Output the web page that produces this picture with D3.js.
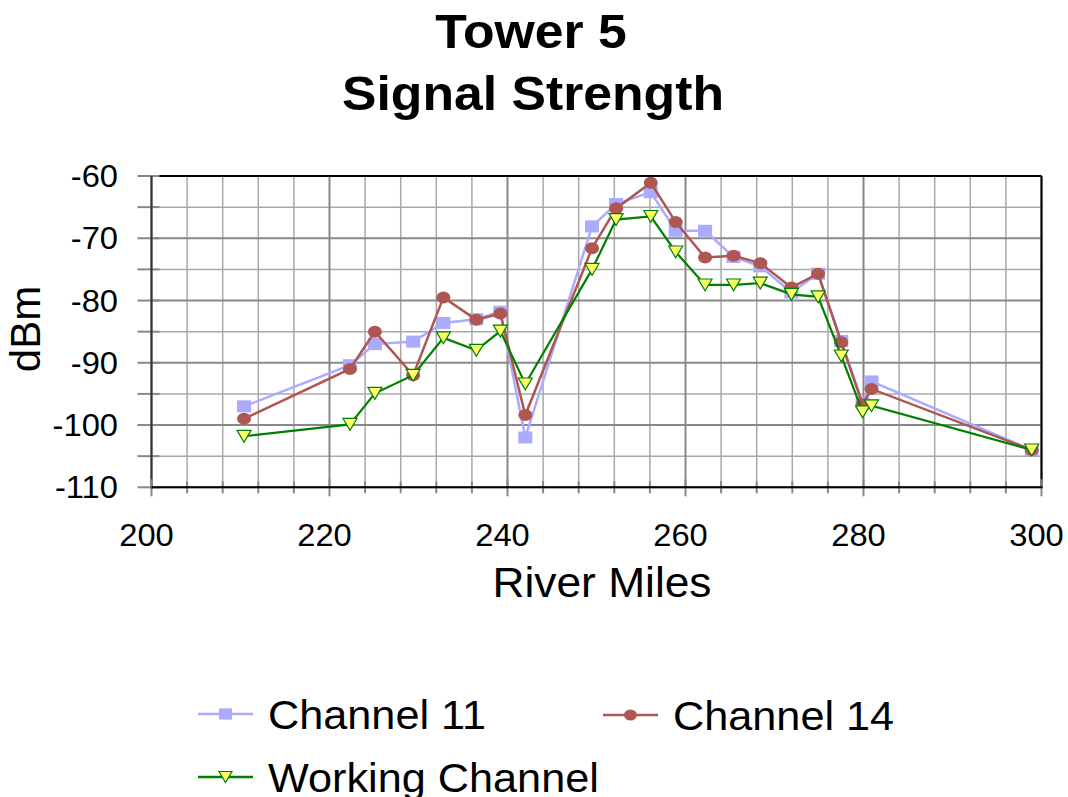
<!DOCTYPE html>
<html>
<head>
<meta charset="utf-8">
<script src="https://cdn.jsdelivr.net/npm/d3@7"></script>
<style>
  body { margin: 0; background: #fff; }
  text { font-family: "Liberation Sans", Arial, sans-serif; fill: #000; }
</style>
</head>
<body>
<div id="chart"></div>
<script>
// chart data
var miles = [210.4, 222.3, 225.1, 229.4, 232.8, 236.5, 239.2, 242.0, 249.5, 252.2, 256.1, 258.9, 262.2, 265.4, 268.4, 271.9, 274.9, 277.5, 279.9, 280.9, 298.9];
var channel11 = [-97.0, -90.4, -87.0, -86.6, -83.6, -83.0, -81.8, -102.0, -68.1, -64.5, -62.6, -68.8, -68.8, -73.0, -74.5, -78.7, -75.7, -86.5, -96.5, -93.0, -104.0];
var channel14 = [-99.0, -91.0, -85.0, -92.0, -79.5, -83.1, -82.1, -98.4, -71.6, -65.2, -61.1, -67.4, -73.1, -72.8, -74.0, -77.9, -75.7, -86.7, -96.7, -94.2, -104.0];
var working = [-101.8, -99.9, -94.9, -92.0, -86.0, -88.0, -84.9, -93.4, -75.0, -67.0, -66.5, -72.2, -77.5, -77.5, -77.2, -79.0, -79.4, -88.9, -97.9, -96.9, -104.0];

var seriesNames = ["Channel 11", "Channel 14", "Working Channel"];
var xTicks = [200, 220, 240, 260, 280, 300];
var yTicks = [-60, -70, -80, -90, -100, -110];
var xMinor = d3.range(200, 301, 4);
var yMinor = d3.range(-110, -59, 5);

var width = 1068, height = 797;
// plot area (window.top is reserved, so use other names)
var plotLeft = 151.5, plotRight = 1041.5, plotTop = 176, plotBottom = 487.3;
// the reference text is a little wider than Liberation Sans
var stretch = 1.055;

var svg = d3.select("#chart").append("svg")
  .attr("width", width)
  .attr("height", height);

var x = d3.scaleLinear().domain([200, 300]).range([plotLeft, plotRight]);
var y = d3.scaleLinear().domain([-110, -60]).range([plotBottom, plotTop]);

// text helper, places text at (tx, ty) with a horizontal stretch
function addText(parent, tx, ty, str, size, anchor, bold) {
  return parent.append("text")
    .attr("transform", "translate(" + tx + "," + ty + ") scale(" + stretch + ",1)")
    .attr("text-anchor", anchor)
    .style("font-size", size + "px")
    .style("font-weight", bold ? "bold" : "normal")
    .text(str);
}

// title
addText(svg, 531, 48, "Tower 5", 49, "middle", true);
addText(svg, 533, 110, "Signal Strength", 49, "middle", true);

// grid lines, minor first then major on top
var grid = svg.append("g");
grid.selectAll(".vminor").data(xMinor.filter(function (d) { return xTicks.indexOf(d) < 0; }))
  .enter().append("line")
  .attr("x1", d => x(d)).attr("x2", d => x(d)).attr("y1", plotTop).attr("y2", plotBottom)
  .style("stroke", "#a8a8a8").style("stroke-width", 1.5);
grid.selectAll(".hminor").data(yMinor.filter(function (d) { return yTicks.indexOf(d) < 0; }))
  .enter().append("line")
  .attr("y1", d => y(d)).attr("y2", d => y(d)).attr("x1", plotLeft).attr("x2", plotRight)
  .style("stroke", "#a8a8a8").style("stroke-width", 1.5);
grid.selectAll(".vmajor").data(xTicks)
  .enter().append("line")
  .attr("x1", d => x(d)).attr("x2", d => x(d)).attr("y1", plotTop).attr("y2", plotBottom)
  .style("stroke", "#888").style("stroke-width", 2);
grid.selectAll(".hmajor").data(yTicks)
  .enter().append("line")
  .attr("y1", d => y(d)).attr("y2", d => y(d)).attr("x1", plotLeft).attr("x2", plotRight)
  .style("stroke", "#888").style("stroke-width", 2);

// plot border
svg.append("line").attr("x1", plotLeft).attr("x2", plotRight).attr("y1", plotTop).attr("y2", plotTop)
  .style("stroke", "#000").style("stroke-width", 2);
svg.append("line").attr("x1", plotRight).attr("x2", plotRight).attr("y1", plotTop).attr("y2", plotBottom)
  .style("stroke", "#000").style("stroke-width", 2);

// y axis with crossing ticks
var yAxis = svg.append("g");
yAxis.selectAll("line.tick").data(yMinor).enter().append("line")
  .attr("x1", plotLeft - 14).attr("x2", plotLeft + 8)
  .attr("y1", d => y(d)).attr("y2", d => y(d))
  .style("stroke", "#888").style("stroke-width", 2);
yAxis.append("line").attr("x1", plotLeft).attr("x2", plotLeft).attr("y1", plotTop).attr("y2", plotBottom + 2)
  .style("stroke", "#333").style("stroke-width", 2);
yTicks.forEach(function (d) {
  addText(yAxis, 118, y(d) + 11, d, 31, "end", false);
});

// x axis with crossing ticks
var xAxis = svg.append("g");
xAxis.selectAll("line.tick").data(xMinor).enter().append("line")
  .attr("x1", d => x(d)).attr("x2", d => x(d))
  .attr("y1", d => xTicks.indexOf(d) >= 0 ? plotBottom - 8 : plotBottom - 6)
  .attr("y2", d => xTicks.indexOf(d) >= 0 ? plotBottom + 9 : plotBottom + 6)
  .style("stroke", "#888").style("stroke-width", 2);
xAxis.append("line").attr("x1", plotLeft).attr("x2", plotRight + 1).attr("y1", plotBottom).attr("y2", plotBottom)
  .style("stroke", "#000").style("stroke-width", 2);
xTicks.forEach(function (d) {
  addText(xAxis, x(d) - 5, 546, d, 31, "middle", false);
});

// axis titles
addText(svg, 602, 597, "River Miles", 42, "middle", false);
svg.append("text").attr("transform", "translate(40,329) rotate(-90)")
  .attr("text-anchor", "middle").style("font-size", "42px")
  .text("dBm");

// series
var colors = ["#aaaaff", "#ad5652", "#008000"];
var seriesValues = [channel11, channel14, working];

function drawMarker(g, type, cx, cy, s) {
  if (type == 0) {
    g.append("rect").attr("x", cx - s / 2).attr("y", cy - s * 0.43).attr("width", s).attr("height", s * 0.86)
      .style("fill", colors[0]);
  } else if (type == 1) {
    g.append("ellipse").attr("cx", cx).attr("cy", cy).attr("rx", s / 2).attr("ry", s * 0.43)
      .style("fill", colors[1]);
  } else {
    var h = s * 0.85;
    g.append("path")
      .attr("d", "M" + (cx - s / 2) + "," + (cy - h / 2) + "L" + (cx + s / 2) + "," + (cy - h / 2) + "L" + cx + "," + (cy + h / 2) + "Z")
      .style("fill", "#ffff66").style("stroke", colors[2]).style("stroke-width", 1.2);
  }
}

var line = d3.line().x(d => x(d[0])).y(d => y(d[1]));

seriesValues.forEach(function (vals, k) {
  var pts = miles.map(function (m, i) { return [m, vals[i]]; });
  var g = svg.append("g");
  g.append("path").datum(pts)
    .attr("d", line)
    .style("fill", "none")
    .style("stroke", colors[k])
    .style("stroke-width", k == 2 ? 2.2 : 2.5);
  pts.forEach(function (p) { drawMarker(g, k, x(p[0]), y(p[1]), 14); });
});

// legend
var legendPos = [[198, 714], [603, 715], [198, 777]];
seriesNames.forEach(function (name, k) {
  var lx = legendPos[k][0], ly = legendPos[k][1];
  var g = svg.append("g");
  g.append("line").attr("x1", lx).attr("x2", lx + 55).attr("y1", ly).attr("y2", ly)
    .style("stroke", colors[k]).style("stroke-width", 2.5);
  drawMarker(g, k, lx + 27.5, ly, 13);
  addText(g, lx + 70, ly + 14.5, name, 41, "start", false);
});
</script>
</body>
</html>
